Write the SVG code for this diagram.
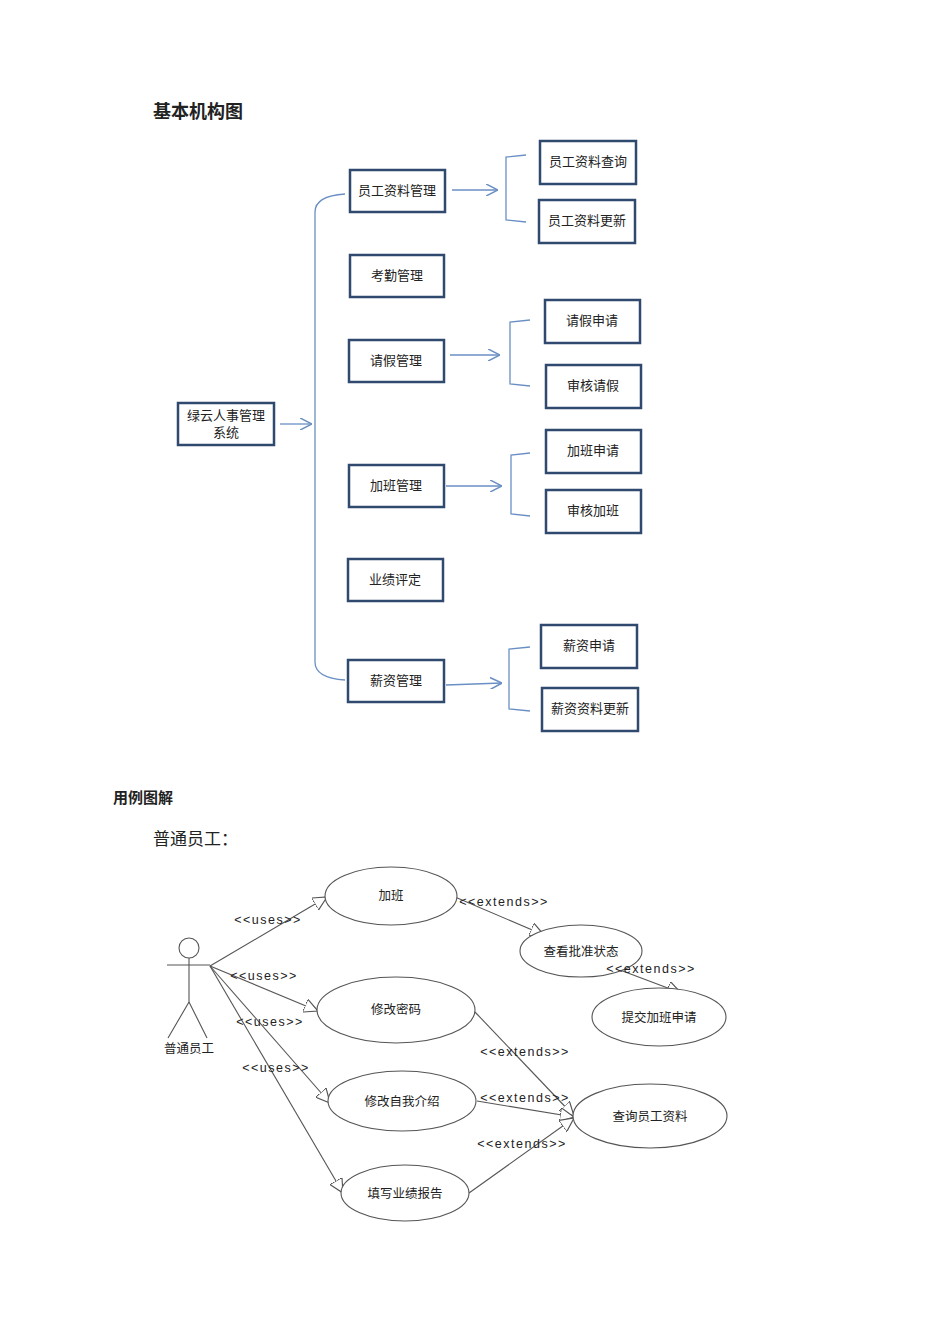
<svg xmlns="http://www.w3.org/2000/svg" width="950" height="1344" viewBox="0 0 950 1344">
<style>
text{font-family:"Noto Sans CJK SC","Liberation Sans",sans-serif;fill:#222}
.b rect{fill:#fff;stroke:#2f4a6e;stroke-width:2.5}
.b text{font-size:13px;text-anchor:middle}
.c{fill:none;stroke:#6a8fc4;stroke-width:1.3}
.u{fill:none;stroke:#555;stroke-width:1.1}
.e ellipse{fill:#fff;stroke:#555;stroke-width:1.1}
.e text{font-size:12.5px;text-anchor:middle}
.l{font-size:12.5px;letter-spacing:1.5px;text-anchor:middle;font-family:"Liberation Sans",sans-serif}
</style>
<defs>
<marker id="oa" viewBox="0 0 10 10" refX="10" refY="5" markerWidth="12" markerHeight="12" markerUnits="userSpaceOnUse" orient="auto"><path d="M0,0L10,5L0,10" fill="none" stroke="#6a8fc4" stroke-width="1.3"/></marker>
<marker id="tri" viewBox="0 0 12 12" refX="12" refY="6" markerWidth="14" markerHeight="14" markerUnits="userSpaceOnUse" orient="auto"><path d="M0,0L12,6L0,12Z" fill="#fff" stroke="#555" stroke-width="1"/></marker>
</defs>
<rect width="950" height="1344" fill="#fff"/>
<text x="153" y="118" font-size="18" font-weight="bold">基本机构图</text>
<text x="113" y="803" font-size="15" font-weight="bold">用例图解</text>
<text x="153" y="845" font-size="17" fill="#333">普通员工：</text>

<g id="connectors">
<path class="c" d="M280,424H312" marker-end="url(#oa)"/>
<path class="c" d="M345,194Q315,196 315,212V662Q315,678 345,680"/>
<path class="c" d="M452,190H498" marker-end="url(#oa)"/>
<path class="c" d="M450,355H500" marker-end="url(#oa)"/>
<path class="c" d="M446,486H502" marker-end="url(#oa)"/>
<path class="c" d="M446,685L502,683" marker-end="url(#oa)"/>
<path class="c" d="M526,155L506,157V220L526,222"/>
<path class="c" d="M530,320L510,322V384L530,386"/>
<path class="c" d="M530,453L511,455V514L530,516"/>
<path class="c" d="M530,647L509,649V709L530,711"/>
</g>

<g class="b">
<g id="root"><rect x="178" y="403" width="96" height="42"/><text x="226" y="420">绿云人事管理</text><text x="226" y="437">系统</text></g>
<g id="n1"><rect x="350" y="170" width="95" height="42"/><text x="397" y="195">员工资料管理</text></g>
<g id="n2"><rect x="350" y="255" width="94" height="42"/><text x="397" y="280">考勤管理</text></g>
<g id="n3"><rect x="349" y="340" width="95" height="42"/><text x="396" y="365">请假管理</text></g>
<g id="n4"><rect x="349" y="465" width="95" height="42"/><text x="396" y="490">加班管理</text></g>
<g id="n5"><rect x="348" y="559" width="95" height="42"/><text x="395" y="584">业绩评定</text></g>
<g id="n6"><rect x="348" y="660" width="96" height="42"/><text x="396" y="685">薪资管理</text></g>
<g id="c1"><rect x="540" y="141" width="96" height="43"/><text x="588" y="166">员工资料查询</text></g>
<g id="c2"><rect x="539" y="200" width="96" height="43"/><text x="587" y="225">员工资料更新</text></g>
<g id="c3"><rect x="545" y="300" width="95" height="43"/><text x="592" y="325">请假申请</text></g>
<g id="c4"><rect x="546" y="365" width="95" height="43"/><text x="593" y="390">审核请假</text></g>
<g id="c5"><rect x="546" y="430" width="95" height="43"/><text x="593" y="455">加班申请</text></g>
<g id="c6"><rect x="546" y="490" width="95" height="43"/><text x="593" y="515">审核加班</text></g>
<g id="c7"><rect x="541" y="625" width="96" height="43"/><text x="589" y="650">薪资申请</text></g>
<g id="c8"><rect x="542" y="688" width="96" height="43"/><text x="590" y="713">薪资资料更新</text></g>
</g>

<g id="actor" class="u">
<circle cx="189" cy="948" r="10" fill="#fff"/>
<path d="M189,958V1002M167,965H210M189,1002L168,1038M189,1002L207,1038"/>
</g>
<text x="189" y="1053" font-size="12.5" text-anchor="middle">普通员工</text>

<g id="uc-connectors" class="u">
<path d="M210,966L327,897" marker-end="url(#tri)"/>
<path d="M210,966L318,1011" marker-end="url(#tri)"/>
<path d="M210,966L330,1103" marker-end="url(#tri)"/>
<path d="M210,966L343,1193" marker-end="url(#tri)"/>
<path d="M455,897L544,935" marker-end="url(#tri)"/>
<path d="M612,967L681,993" marker-end="url(#tri)"/>
<path d="M475,1012L574,1116" marker-end="url(#tri)"/>
<path d="M477,1101L574,1117" marker-end="url(#tri)"/>
<path d="M469,1193L574,1118" marker-end="url(#tri)"/>
</g>

<g class="e">
<g id="u1"><ellipse cx="391" cy="896" rx="66" ry="29"/><text x="391" y="900">加班</text></g>
<g id="u2"><ellipse cx="581" cy="951" rx="61" ry="26"/><text x="581" y="956">查看批准状态</text></g>
<g id="u3"><ellipse cx="659" cy="1017" rx="67" ry="29"/><text x="659" y="1022">提交加班申请</text></g>
<g id="u4"><ellipse cx="396" cy="1010" rx="79" ry="33"/><text x="396" y="1014">修改密码</text></g>
<g id="u5"><ellipse cx="650" cy="1116" rx="77" ry="32"/><text x="650" y="1121">查询员工资料</text></g>
<g id="u6"><ellipse cx="402" cy="1101" rx="74" ry="30"/><text x="402" y="1106">修改自我介绍</text></g>
<g id="u7"><ellipse cx="405" cy="1193" rx="64" ry="28"/><text x="405" y="1198">填写业绩报告</text></g>
</g>

<g id="labels">
<text class="l" x="268" y="924">&lt;&lt;uses&gt;&gt;</text>
<text class="l" x="264" y="980">&lt;&lt;uses&gt;&gt;</text>
<text class="l" x="270" y="1026">&lt;&lt;uses&gt;&gt;</text>
<text class="l" x="276" y="1072">&lt;&lt;uses&gt;&gt;</text>
<text class="l" x="504" y="906">&lt;&lt;extends&gt;&gt;</text>
<text class="l" x="651" y="973">&lt;&lt;extends&gt;&gt;</text>
<text class="l" x="525" y="1056">&lt;&lt;extends&gt;&gt;</text>
<text class="l" x="525" y="1102">&lt;&lt;extends&gt;&gt;</text>
<text class="l" x="522" y="1148">&lt;&lt;extends&gt;&gt;</text>
</g>
</svg>
